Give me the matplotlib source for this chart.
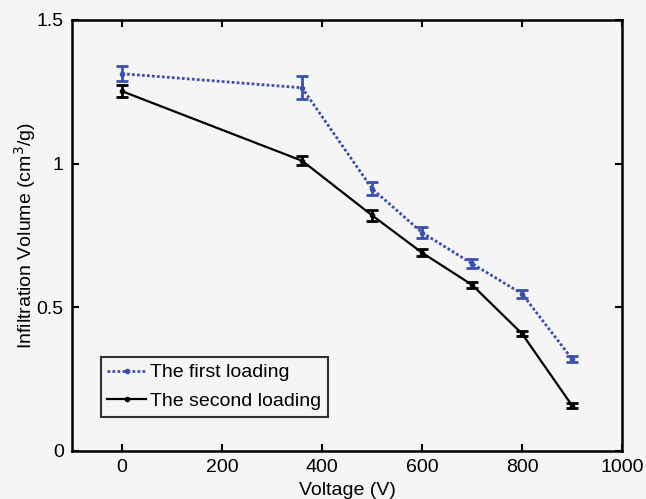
import matplotlib
matplotlib.use('Agg')
import matplotlib.pyplot as plt
from matplotlib.lines import Line2D

# Voltage steps (V)
voltage = [0, 360, 500, 600, 700, 800, 900]

# First loading: infiltration volume (cm^3/g) and error
first_vol = [1.313, 1.264, 0.913, 0.760, 0.652, 0.547, 0.320]
first_err = [0.026, 0.040, 0.022, 0.020, 0.015, 0.013, 0.010]

# Second loading
second_vol = [1.252, 1.010, 0.820, 0.690, 0.578, 0.408, 0.158]
second_err = [0.020, 0.015, 0.018, 0.013, 0.010, 0.008, 0.008]

plt.rcParams['font.family'] = ['Liberation Sans', 'DejaVu Sans']
fs = 14

bg = '#f5f5f5'
fig = plt.figure(figsize=(6.46, 4.99), dpi=100)
fig.patch.set_facecolor(bg)
ax = fig.add_axes([0.1115, 0.0962, 0.8515, 0.8638])
ax.set_facecolor(bg)

blue = '#3b4fae'
ax.errorbar(voltage, first_vol, yerr=first_err, color=blue, linestyle=(0, (1, 0.8)),
            linewidth=2, marker='.', markersize=6, capsize=4, capthick=2,
            elinewidth=2)
ax.errorbar(voltage, second_vol, yerr=second_err, color='black', linestyle='-',
            linewidth=1.6, marker='.', markersize=6, capsize=4, capthick=2,
            elinewidth=2)

ax.set_xlim(-100, 1000)
ax.set_ylim(0, 1.5)
ax.set_xticks([0, 200, 400, 600, 800, 1000])
ax.set_yticks([0, 0.5, 1, 1.5])
ax.set_yticklabels(['0', '0.5', '1', '1.5'])
ax.tick_params(direction='in', top=True, right=True, length=5, width=1.5,
               labelsize=fs, pad=6)
for s in ax.spines.values():
    s.set_linewidth(1.8)

ax.set_xlabel('Voltage (V)', fontsize=fs, labelpad=4)
ax.set_ylabel('Infiltration Volume (cm$^3$/g)', fontsize=fs, labelpad=-1)

handles = [
    Line2D([], [], color=blue, linestyle=(0, (1, 0.8)), linewidth=2,
           marker='.', markersize=6),
    Line2D([], [], color='black', linestyle='-', linewidth=1.6,
           marker='.', markersize=6),
]
leg = ax.legend(handles, ['The first loading', 'The second loading'],
                loc='lower left', bbox_to_anchor=(0.052, 0.08), fontsize=fs,
                frameon=True, fancybox=False, handlelength=2.0,
                handletextpad=0.2, borderpad=0.35, labelspacing=0.55,
                borderaxespad=0)
leg.get_frame().set_edgecolor('black')
leg.get_frame().set_linewidth(1.5)
leg.get_frame().set_facecolor(bg)

fig.savefig('out.png', dpi=100, facecolor=bg)
